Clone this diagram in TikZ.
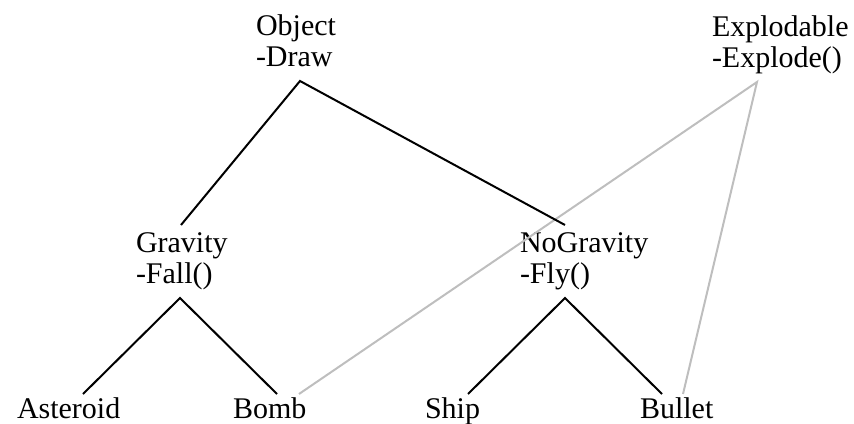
\documentclass[tikz,border=0pt]{standalone}
\usepackage{fontspec}
\setmainfont{Liberation Serif}
\begin{document}
\begin{tikzpicture}[x=1pt,y=-1pt,
  cls/.style={anchor=base west,inner sep=0pt,outer sep=0pt,font=\fontsize{30}{31.5}\selectfont},
  inh/.style={line width=2pt,black},
  iface/.style={line width=2pt,color={rgb,255:red,190;green,190;blue,190}}]
\useasboundingbox (0,0) rectangle (854,423);
\newcommand{\twoline}[2]{\begin{tabular}[t]{@{}l@{}}#1\\#2\end{tabular}}
% classes
\node[cls] (object) at (256,35) {\twoline{Object}{-Draw}};
\node[cls] (explodable) at (712,36) {\twoline{Explodable}{-Explode()}};
\node[cls] (gravity) at (136,252) {\twoline{Gravity}{-Fall()}};
\node[cls] (nogravity) at (520,252) {\twoline{NoGravity}{-Fly()}};
\node[cls] (asteroid) at (17,418) {Asteroid};
\node[cls] (bomb) at (233,418) {Bomb};
\node[cls] (ship) at (425,418) {Ship};
\node[cls] (bullet) at (640,418) {Bullet};
% connector points
\coordinate (objB) at (300,81);
\coordinate (explB) at (757,82);
\coordinate (gravT) at (181,225);
\coordinate (gravB) at (180,298);
\coordinate (nogT) at (565,225);
\coordinate (nogB) at (565,298);
\coordinate (astT) at (83,394);
\coordinate (bombT) at (277,394);
\coordinate (bombT2) at (299,394);
\coordinate (shipT) at (468,394);
\coordinate (bulT) at (662,394);
\coordinate (bulT2) at (683,394);
% interface links
\draw[iface] (bombT2) -- (explB) -- (bulT2);
% inheritance links
\draw[inh] (gravT) -- (objB) -- (nogT);
\draw[inh] (astT) -- (gravB) -- (bombT);
\draw[inh] (shipT) -- (nogB) -- (bulT);
\end{tikzpicture}
\end{document}
